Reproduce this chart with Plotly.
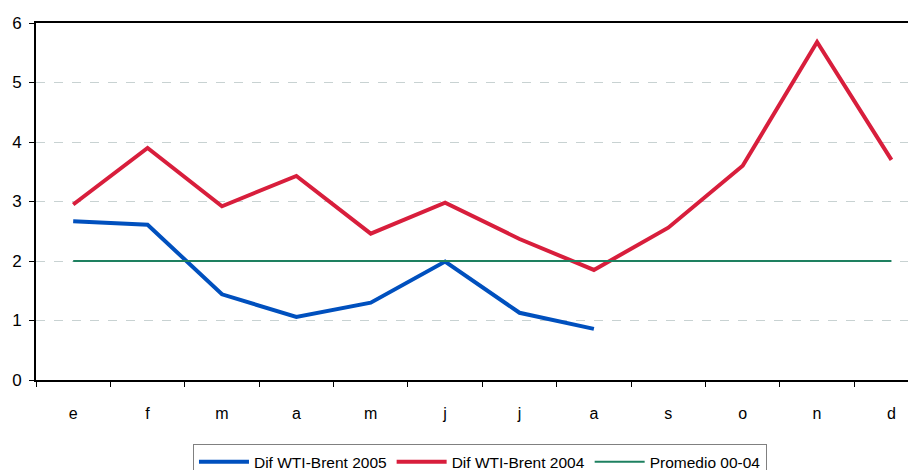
import plotly.graph_objects as go

months = ["e", "f", "m", "a", "m", "j", "j", "a", "s", "o", "n", "d"]
dif_2005 = [2.67, 2.61, 1.44, 1.06, 1.30, 1.99, 1.13, 0.86]
dif_2004 = [2.95, 3.90, 2.92, 3.43, 2.46, 2.98, 2.37, 1.85, 2.56, 3.60, 5.68, 3.70]
promedio = [2.0] * 12

pos = list(range(len(months)))

fig = go.Figure()
fig.add_trace(go.Scatter(x=pos[:len(dif_2005)], y=dif_2005, mode="lines",
                         name="Dif WTI-Brent 2005",
                         line=dict(color="#0050BE", width=4)))
fig.add_trace(go.Scatter(x=pos, y=dif_2004, mode="lines",
                         name="Dif WTI-Brent 2004",
                         line=dict(color="#D81E3C", width=4)))
fig.add_trace(go.Scatter(x=pos, y=promedio, mode="lines",
                         name="Promedio 00-04",
                         line=dict(color="#1E8060", width=2)))

fig.update_layout(
    width=908, height=462,
    margin=dict(l=28, r=0, t=15, b=90),
    paper_bgcolor="white", plot_bgcolor="white",
    font=dict(family="Liberation Sans, Arial, sans-serif", size=16, color="black"),
    showlegend=True,
    legend=dict(orientation="h", xref="container", yref="container",
                x=0.5198, xanchor="center", y=0.056, yanchor="top",
                bordercolor="#808080", borderwidth=1, font=dict(size=15.5),
                itemwidth=50, tracegroupgap=0),
)
fig.update_xaxes(
    range=[-0.5, 11.33], tickvals=pos, ticktext=months, ticks="",
    showgrid=False, zeroline=False, automargin=False,
    showline=True, linecolor="black", linewidth=2, mirror=True,
    minor=dict(tick0=-0.5, dtick=1, ticks="outside", ticklen=5,
               tickcolor="black", tickwidth=1, showgrid=False),
    tickfont=dict(size=16), ticklabelstandoff=18, fixedrange=True,
)
fig.update_yaxes(
    range=[0, 6], tickvals=[0, 1, 2, 3, 4, 5, 6], ticks="outside", ticklen=5,
    tickcolor="black", showgrid=True, gridcolor="#C8D2D2", griddash="dash",
    gridwidth=1, zeroline=False, showline=True, linecolor="black", linewidth=2,
    automargin=False, ticklabelstandoff=4,
    tickfont=dict(size=17), fixedrange=True,
)

fig.write_html("out.html")
